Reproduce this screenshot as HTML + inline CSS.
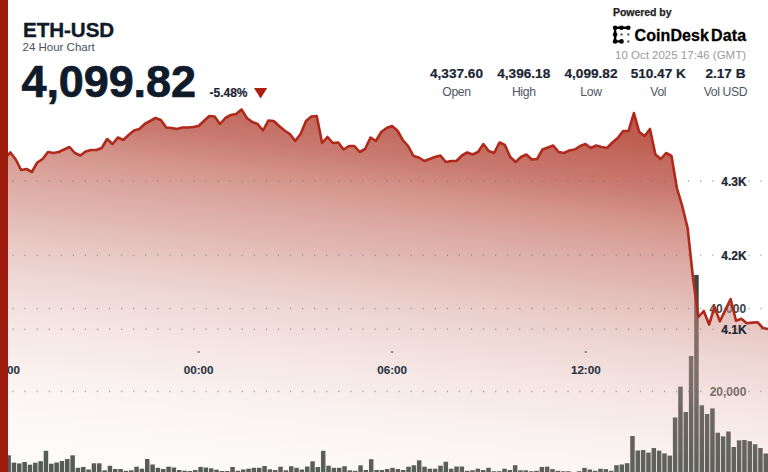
<!DOCTYPE html>
<html><head><meta charset="utf-8"><style>
html,body{margin:0;padding:0}
body{width:768px;height:472px;overflow:hidden;background:#fff;position:relative;font-family:"Liberation Sans",sans-serif}
.a{position:absolute;white-space:nowrap;line-height:1}
svg{position:absolute;left:0;top:0}
</style></head><body>
<svg width="768" height="472" viewBox="0 0 768 472">
<defs>
<linearGradient id="g" gradientUnits="userSpaceOnUse" x1="384" y1="80" x2="334.32" y2="494.04"><stop offset="0.0000" stop-color="rgb(168,43,26)" stop-opacity="0.8"/><stop offset="0.0714" stop-color="rgb(172,50,33)" stop-opacity="0.78"/><stop offset="0.1833" stop-color="rgb(182,75,62)" stop-opacity="0.74"/><stop offset="0.2667" stop-color="rgb(193,101,86)" stop-opacity="0.68"/><stop offset="0.3690" stop-color="rgb(200,122,112)" stop-opacity="0.6"/><stop offset="0.4167" stop-color="rgb(202,126,117)" stop-opacity="0.55"/><stop offset="0.5238" stop-color="rgb(212,153,144)" stop-opacity="0.47"/><stop offset="0.5952" stop-color="rgb(219,169,162)" stop-opacity="0.42"/><stop offset="0.6667" stop-color="rgb(224,178,172)" stop-opacity="0.35"/><stop offset="0.7024" stop-color="rgb(225,178,172)" stop-opacity="0.3"/><stop offset="0.8095" stop-color="rgb(232,196,191)" stop-opacity="0.22"/><stop offset="0.9048" stop-color="rgb(237,214,208)" stop-opacity="0.17"/><stop offset="1.0000" stop-color="rgb(241,219,219)" stop-opacity="0.14"/></linearGradient>
</defs>
<g fill="#3c4641">
<rect x="6.37" y="455.30" width="4.5" height="17.20"/>
<rect x="11.70" y="462.60" width="4.5" height="9.90"/>
<rect x="17.03" y="463.40" width="4.5" height="9.10"/>
<rect x="22.37" y="462.00" width="4.5" height="10.50"/>
<rect x="27.70" y="464.70" width="4.5" height="7.80"/>
<rect x="33.03" y="462.70" width="4.5" height="9.80"/>
<rect x="38.36" y="461.20" width="4.5" height="11.30"/>
<rect x="43.69" y="450.80" width="4.5" height="21.70"/>
<rect x="49.03" y="463.70" width="4.5" height="8.80"/>
<rect x="54.36" y="462.50" width="4.5" height="10.00"/>
<rect x="59.69" y="461.00" width="4.5" height="11.50"/>
<rect x="65.02" y="459.00" width="4.5" height="13.50"/>
<rect x="70.35" y="455.30" width="4.5" height="17.20"/>
<rect x="75.69" y="467.80" width="4.5" height="4.70"/>
<rect x="81.02" y="467.00" width="4.5" height="5.50"/>
<rect x="86.35" y="469.50" width="4.5" height="3.00"/>
<rect x="91.68" y="463.30" width="4.5" height="9.20"/>
<rect x="97.01" y="463.30" width="4.5" height="9.20"/>
<rect x="102.35" y="470.30" width="4.5" height="2.20"/>
<rect x="107.68" y="465.80" width="4.5" height="6.70"/>
<rect x="113.01" y="469.00" width="4.5" height="3.50"/>
<rect x="118.34" y="469.00" width="4.5" height="3.50"/>
<rect x="123.67" y="470.80" width="4.5" height="1.70"/>
<rect x="129.01" y="470.30" width="4.5" height="2.20"/>
<rect x="134.34" y="466.70" width="4.5" height="5.80"/>
<rect x="139.67" y="468.70" width="4.5" height="3.80"/>
<rect x="145.00" y="459.00" width="4.5" height="13.50"/>
<rect x="150.33" y="464.50" width="4.5" height="8.00"/>
<rect x="155.67" y="467.80" width="4.5" height="4.70"/>
<rect x="161.00" y="469.00" width="4.5" height="3.50"/>
<rect x="166.33" y="466.70" width="4.5" height="5.80"/>
<rect x="171.66" y="467.50" width="4.5" height="5.00"/>
<rect x="176.99" y="470.00" width="4.5" height="2.50"/>
<rect x="182.33" y="470.70" width="4.5" height="1.80"/>
<rect x="187.66" y="471.00" width="4.5" height="1.50"/>
<rect x="192.99" y="470.00" width="4.5" height="2.50"/>
<rect x="198.32" y="466.90" width="4.5" height="5.60"/>
<rect x="203.65" y="467.50" width="4.5" height="5.00"/>
<rect x="208.99" y="468.30" width="4.5" height="4.20"/>
<rect x="214.32" y="469.70" width="4.5" height="2.80"/>
<rect x="219.65" y="471.00" width="4.5" height="1.50"/>
<rect x="224.98" y="471.00" width="4.5" height="1.50"/>
<rect x="230.31" y="467.00" width="4.5" height="5.50"/>
<rect x="235.65" y="470.70" width="4.5" height="1.80"/>
<rect x="240.98" y="469.50" width="4.5" height="3.00"/>
<rect x="246.31" y="468.70" width="4.5" height="3.80"/>
<rect x="251.64" y="467.80" width="4.5" height="4.70"/>
<rect x="256.97" y="467.80" width="4.5" height="4.70"/>
<rect x="262.31" y="466.00" width="4.5" height="6.50"/>
<rect x="267.64" y="469.30" width="4.5" height="3.20"/>
<rect x="272.97" y="470.00" width="4.5" height="2.50"/>
<rect x="278.30" y="466.70" width="4.5" height="5.80"/>
<rect x="283.63" y="470.30" width="4.5" height="2.20"/>
<rect x="288.97" y="466.20" width="4.5" height="6.30"/>
<rect x="294.30" y="467.80" width="4.5" height="4.70"/>
<rect x="299.63" y="469.50" width="4.5" height="3.00"/>
<rect x="304.96" y="466.50" width="4.5" height="6.00"/>
<rect x="310.29" y="461.30" width="4.5" height="11.20"/>
<rect x="315.63" y="467.00" width="4.5" height="5.50"/>
<rect x="320.96" y="450.80" width="4.5" height="21.70"/>
<rect x="326.29" y="465.70" width="4.5" height="6.80"/>
<rect x="331.62" y="467.80" width="4.5" height="4.70"/>
<rect x="336.95" y="467.80" width="4.5" height="4.70"/>
<rect x="342.29" y="466.20" width="4.5" height="6.30"/>
<rect x="347.62" y="470.30" width="4.5" height="2.20"/>
<rect x="352.95" y="470.80" width="4.5" height="1.70"/>
<rect x="358.28" y="465.30" width="4.5" height="7.20"/>
<rect x="363.61" y="470.00" width="4.5" height="2.50"/>
<rect x="368.95" y="459.20" width="4.5" height="13.30"/>
<rect x="374.28" y="470.00" width="4.5" height="2.50"/>
<rect x="379.61" y="470.00" width="4.5" height="2.50"/>
<rect x="384.94" y="469.00" width="4.5" height="3.50"/>
<rect x="390.27" y="467.80" width="4.5" height="4.70"/>
<rect x="395.61" y="469.00" width="4.5" height="3.50"/>
<rect x="400.94" y="470.00" width="4.5" height="2.50"/>
<rect x="406.27" y="466.70" width="4.5" height="5.80"/>
<rect x="411.60" y="465.30" width="4.5" height="7.20"/>
<rect x="416.93" y="460.30" width="4.5" height="12.20"/>
<rect x="422.27" y="466.70" width="4.5" height="5.80"/>
<rect x="427.60" y="468.70" width="4.5" height="3.80"/>
<rect x="432.93" y="468.70" width="4.5" height="3.80"/>
<rect x="438.26" y="465.70" width="4.5" height="6.80"/>
<rect x="443.59" y="461.70" width="4.5" height="10.80"/>
<rect x="448.93" y="468.70" width="4.5" height="3.80"/>
<rect x="454.26" y="466.50" width="4.5" height="6.00"/>
<rect x="459.59" y="466.50" width="4.5" height="6.00"/>
<rect x="464.92" y="470.80" width="4.5" height="1.70"/>
<rect x="470.25" y="470.30" width="4.5" height="2.20"/>
<rect x="475.59" y="468.70" width="4.5" height="3.80"/>
<rect x="480.92" y="470.00" width="4.5" height="2.50"/>
<rect x="486.25" y="467.80" width="4.5" height="4.70"/>
<rect x="491.58" y="471.20" width="4.5" height="1.30"/>
<rect x="496.91" y="471.20" width="4.5" height="1.30"/>
<rect x="502.25" y="468.70" width="4.5" height="3.80"/>
<rect x="507.58" y="470.00" width="4.5" height="2.50"/>
<rect x="512.91" y="465.20" width="4.5" height="7.30"/>
<rect x="518.24" y="470.30" width="4.5" height="2.20"/>
<rect x="523.57" y="470.30" width="4.5" height="2.20"/>
<rect x="528.91" y="471.20" width="4.5" height="1.30"/>
<rect x="534.24" y="470.80" width="4.5" height="1.70"/>
<rect x="539.57" y="466.90" width="4.5" height="5.60"/>
<rect x="544.90" y="466.60" width="4.5" height="5.90"/>
<rect x="550.23" y="469.10" width="4.5" height="3.40"/>
<rect x="555.57" y="470.80" width="4.5" height="1.70"/>
<rect x="560.90" y="471.20" width="4.5" height="1.30"/>
<rect x="566.23" y="471.20" width="4.5" height="1.30"/>
<rect x="571.56" y="472.00" width="4.5" height="0.50"/>
<rect x="576.89" y="471.20" width="4.5" height="1.30"/>
<rect x="582.23" y="467.90" width="4.5" height="4.60"/>
<rect x="587.56" y="469.50" width="4.5" height="3.00"/>
<rect x="592.89" y="470.80" width="4.5" height="1.70"/>
<rect x="598.22" y="468.80" width="4.5" height="3.70"/>
<rect x="603.55" y="469.10" width="4.5" height="3.40"/>
<rect x="608.89" y="470.80" width="4.5" height="1.70"/>
<rect x="614.22" y="465.20" width="4.5" height="7.30"/>
<rect x="619.55" y="464.50" width="4.5" height="8.00"/>
<rect x="624.88" y="463.20" width="4.5" height="9.30"/>
<rect x="630.21" y="436.00" width="4.5" height="36.50"/>
<rect x="635.55" y="450.50" width="4.5" height="22.00"/>
<rect x="640.88" y="450.00" width="4.5" height="22.50"/>
<rect x="646.21" y="452.60" width="4.5" height="19.90"/>
<rect x="651.54" y="448.00" width="4.5" height="24.50"/>
<rect x="656.87" y="450.60" width="4.5" height="21.90"/>
<rect x="662.21" y="453.40" width="4.5" height="19.10"/>
<rect x="667.54" y="455.60" width="4.5" height="16.90"/>
<rect x="672.87" y="417.50" width="4.5" height="55.00"/>
<rect x="678.20" y="386.60" width="4.5" height="85.90"/>
<rect x="683.53" y="412.00" width="4.5" height="60.50"/>
<rect x="688.87" y="356.00" width="4.5" height="116.50"/>
<rect x="694.20" y="274.90" width="4.5" height="197.60"/>
<rect x="699.53" y="405.30" width="4.5" height="67.20"/>
<rect x="704.86" y="414.00" width="4.5" height="58.50"/>
<rect x="710.19" y="408.40" width="4.5" height="64.10"/>
<rect x="715.53" y="432.70" width="4.5" height="39.80"/>
<rect x="720.86" y="436.40" width="4.5" height="36.10"/>
<rect x="726.19" y="431.50" width="4.5" height="41.00"/>
<rect x="731.52" y="447.00" width="4.5" height="25.50"/>
<rect x="736.85" y="440.30" width="4.5" height="32.20"/>
<rect x="742.19" y="440.00" width="4.5" height="32.50"/>
<rect x="747.52" y="441.20" width="4.5" height="31.30"/>
<rect x="752.85" y="444.20" width="4.5" height="28.30"/>
<rect x="758.18" y="448.00" width="4.5" height="24.50"/>
<rect x="763.51" y="453.50" width="4.5" height="19.00"/>
</g>
<g font-family="Liberation Sans" font-weight="bold" font-size="12" fill="#3c4641" text-anchor="middle">
<text x="727.8" y="312.6">40,000</text>
<text x="728" y="395.8">20,000</text>
</g>
<path d="M5.00,158.00 L10.38,152.50 L15.75,159.50 L21.12,170.00 L26.50,169.00 L31.88,172.00 L37.25,162.50 L42.62,159.00 L48.00,152.00 L53.38,153.00 L58.75,152.00 L64.12,149.50 L69.50,147.00 L74.88,153.00 L80.25,155.50 L85.62,151.50 L91.00,150.00 L96.38,150.00 L101.75,148.00 L107.12,139.00 L112.50,144.00 L117.88,137.50 L123.25,140.00 L128.62,135.00 L134.00,130.50 L139.38,129.00 L144.75,124.00 L150.12,121.00 L155.50,118.00 L160.88,120.00 L166.25,127.50 L171.62,128.00 L177.00,129.00 L182.38,127.50 L187.75,127.50 L193.12,127.00 L198.50,126.00 L203.88,121.00 L209.25,116.00 L214.62,116.50 L220.00,124.00 L225.38,118.00 L230.75,115.00 L236.12,114.00 L241.50,109.50 L246.88,118.00 L252.25,122.00 L257.62,124.00 L263.00,130.50 L268.38,120.50 L273.75,121.00 L279.12,126.00 L284.50,130.50 L289.88,134.00 L295.25,141.00 L300.62,134.00 L306.00,121.00 L311.38,116.50 L316.75,116.00 L322.12,143.00 L327.50,137.00 L332.88,143.00 L338.25,142.50 L343.62,149.50 L349.00,146.00 L354.38,146.00 L359.75,152.00 L365.12,149.00 L370.50,137.50 L375.88,141.00 L381.25,132.00 L386.62,128.00 L392.00,126.00 L397.38,130.50 L402.75,140.00 L408.12,146.00 L413.50,156.00 L418.88,157.50 L424.25,161.00 L429.62,159.00 L435.00,157.00 L440.38,155.50 L445.75,162.00 L451.12,161.00 L456.50,161.00 L461.88,155.50 L467.25,152.50 L472.62,154.50 L478.00,152.00 L483.38,144.00 L488.75,151.00 L494.12,153.00 L499.50,142.50 L504.88,145.00 L510.25,157.00 L515.62,162.00 L521.00,157.00 L526.38,154.50 L531.75,159.50 L537.12,159.00 L542.50,149.50 L547.88,147.50 L553.25,145.50 L558.62,152.00 L564.00,153.00 L569.38,150.50 L574.75,149.50 L580.12,146.00 L585.50,144.00 L590.88,148.00 L596.25,145.50 L601.62,147.00 L607.00,148.00 L612.38,142.50 L617.75,138.00 L623.12,131.00 L628.50,131.00 L633.88,113.00 L639.25,132.00 L644.62,136.00 L650.00,129.00 L655.38,154.50 L660.75,159.00 L666.12,153.00 L671.50,156.00 L676.88,188.00 L682.25,206.00 L687.62,228.00 L693.00,278.00 L698.38,317.00 L703.75,311.00 L709.12,324.50 L714.50,307.00 L719.88,321.30 L725.25,310.00 L730.62,299.00 L736.00,320.70 L741.38,318.80 L746.75,323.30 L752.12,322.60 L757.50,322.20 L762.88,328.00 L768.25,329.00 L768.25,472 L5.00,472 Z" fill="url(#g)"/>
<g fill="#767a7a" fill-opacity="0.6">
<rect x="12.44" y="180.30" width="1.2" height="1.6"/>
<rect x="24.50" y="180.30" width="1.2" height="1.6"/>
<rect x="36.57" y="180.30" width="1.2" height="1.6"/>
<rect x="48.63" y="180.30" width="1.2" height="1.6"/>
<rect x="60.70" y="180.30" width="1.2" height="1.6"/>
<rect x="72.77" y="180.30" width="1.2" height="1.6"/>
<rect x="84.83" y="180.30" width="1.2" height="1.6"/>
<rect x="96.90" y="180.30" width="1.2" height="1.6"/>
<rect x="108.96" y="180.30" width="1.2" height="1.6"/>
<rect x="121.03" y="180.30" width="1.2" height="1.6"/>
<rect x="133.09" y="180.30" width="1.2" height="1.6"/>
<rect x="145.16" y="180.30" width="1.2" height="1.6"/>
<rect x="157.22" y="180.30" width="1.2" height="1.6"/>
<rect x="169.28" y="180.30" width="1.2" height="1.6"/>
<rect x="181.35" y="180.30" width="1.2" height="1.6"/>
<rect x="193.41" y="180.30" width="1.2" height="1.6"/>
<rect x="205.48" y="180.30" width="1.2" height="1.6"/>
<rect x="217.54" y="180.30" width="1.2" height="1.6"/>
<rect x="229.61" y="180.30" width="1.2" height="1.6"/>
<rect x="241.67" y="180.30" width="1.2" height="1.6"/>
<rect x="253.74" y="180.30" width="1.2" height="1.6"/>
<rect x="265.80" y="180.30" width="1.2" height="1.6"/>
<rect x="277.87" y="180.30" width="1.2" height="1.6"/>
<rect x="289.94" y="180.30" width="1.2" height="1.6"/>
<rect x="302.00" y="180.30" width="1.2" height="1.6"/>
<rect x="314.06" y="180.30" width="1.2" height="1.6"/>
<rect x="326.13" y="180.30" width="1.2" height="1.6"/>
<rect x="338.19" y="180.30" width="1.2" height="1.6"/>
<rect x="350.26" y="180.30" width="1.2" height="1.6"/>
<rect x="362.32" y="180.30" width="1.2" height="1.6"/>
<rect x="374.39" y="180.30" width="1.2" height="1.6"/>
<rect x="386.45" y="180.30" width="1.2" height="1.6"/>
<rect x="398.52" y="180.30" width="1.2" height="1.6"/>
<rect x="410.58" y="180.30" width="1.2" height="1.6"/>
<rect x="422.65" y="180.30" width="1.2" height="1.6"/>
<rect x="434.71" y="180.30" width="1.2" height="1.6"/>
<rect x="446.78" y="180.30" width="1.2" height="1.6"/>
<rect x="458.84" y="180.30" width="1.2" height="1.6"/>
<rect x="470.91" y="180.30" width="1.2" height="1.6"/>
<rect x="482.97" y="180.30" width="1.2" height="1.6"/>
<rect x="495.04" y="180.30" width="1.2" height="1.6"/>
<rect x="507.10" y="180.30" width="1.2" height="1.6"/>
<rect x="519.17" y="180.30" width="1.2" height="1.6"/>
<rect x="531.23" y="180.30" width="1.2" height="1.6"/>
<rect x="543.30" y="180.30" width="1.2" height="1.6"/>
<rect x="555.36" y="180.30" width="1.2" height="1.6"/>
<rect x="567.43" y="180.30" width="1.2" height="1.6"/>
<rect x="579.49" y="180.30" width="1.2" height="1.6"/>
<rect x="591.56" y="180.30" width="1.2" height="1.6"/>
<rect x="603.62" y="180.30" width="1.2" height="1.6"/>
<rect x="615.69" y="180.30" width="1.2" height="1.6"/>
<rect x="627.75" y="180.30" width="1.2" height="1.6"/>
<rect x="639.82" y="180.30" width="1.2" height="1.6"/>
<rect x="651.88" y="180.30" width="1.2" height="1.6"/>
<rect x="663.95" y="180.30" width="1.2" height="1.6"/>
<rect x="676.01" y="180.30" width="1.2" height="1.6"/>
<rect x="688.08" y="180.30" width="1.2" height="1.6"/>
<rect x="700.14" y="180.30" width="1.2" height="1.6"/>
<rect x="712.21" y="180.30" width="1.2" height="1.6"/>
<rect x="724.27" y="180.30" width="1.2" height="1.6"/>
<rect x="736.34" y="180.30" width="1.2" height="1.6"/>
<rect x="748.40" y="180.30" width="1.2" height="1.6"/>
<rect x="760.47" y="180.30" width="1.2" height="1.6"/>
<rect x="12.44" y="254.50" width="1.2" height="1.6"/>
<rect x="24.50" y="254.50" width="1.2" height="1.6"/>
<rect x="36.57" y="254.50" width="1.2" height="1.6"/>
<rect x="48.63" y="254.50" width="1.2" height="1.6"/>
<rect x="60.70" y="254.50" width="1.2" height="1.6"/>
<rect x="72.77" y="254.50" width="1.2" height="1.6"/>
<rect x="84.83" y="254.50" width="1.2" height="1.6"/>
<rect x="96.90" y="254.50" width="1.2" height="1.6"/>
<rect x="108.96" y="254.50" width="1.2" height="1.6"/>
<rect x="121.03" y="254.50" width="1.2" height="1.6"/>
<rect x="133.09" y="254.50" width="1.2" height="1.6"/>
<rect x="145.16" y="254.50" width="1.2" height="1.6"/>
<rect x="157.22" y="254.50" width="1.2" height="1.6"/>
<rect x="169.28" y="254.50" width="1.2" height="1.6"/>
<rect x="181.35" y="254.50" width="1.2" height="1.6"/>
<rect x="193.41" y="254.50" width="1.2" height="1.6"/>
<rect x="205.48" y="254.50" width="1.2" height="1.6"/>
<rect x="217.54" y="254.50" width="1.2" height="1.6"/>
<rect x="229.61" y="254.50" width="1.2" height="1.6"/>
<rect x="241.67" y="254.50" width="1.2" height="1.6"/>
<rect x="253.74" y="254.50" width="1.2" height="1.6"/>
<rect x="265.80" y="254.50" width="1.2" height="1.6"/>
<rect x="277.87" y="254.50" width="1.2" height="1.6"/>
<rect x="289.94" y="254.50" width="1.2" height="1.6"/>
<rect x="302.00" y="254.50" width="1.2" height="1.6"/>
<rect x="314.06" y="254.50" width="1.2" height="1.6"/>
<rect x="326.13" y="254.50" width="1.2" height="1.6"/>
<rect x="338.19" y="254.50" width="1.2" height="1.6"/>
<rect x="350.26" y="254.50" width="1.2" height="1.6"/>
<rect x="362.32" y="254.50" width="1.2" height="1.6"/>
<rect x="374.39" y="254.50" width="1.2" height="1.6"/>
<rect x="386.45" y="254.50" width="1.2" height="1.6"/>
<rect x="398.52" y="254.50" width="1.2" height="1.6"/>
<rect x="410.58" y="254.50" width="1.2" height="1.6"/>
<rect x="422.65" y="254.50" width="1.2" height="1.6"/>
<rect x="434.71" y="254.50" width="1.2" height="1.6"/>
<rect x="446.78" y="254.50" width="1.2" height="1.6"/>
<rect x="458.84" y="254.50" width="1.2" height="1.6"/>
<rect x="470.91" y="254.50" width="1.2" height="1.6"/>
<rect x="482.97" y="254.50" width="1.2" height="1.6"/>
<rect x="495.04" y="254.50" width="1.2" height="1.6"/>
<rect x="507.10" y="254.50" width="1.2" height="1.6"/>
<rect x="519.17" y="254.50" width="1.2" height="1.6"/>
<rect x="531.23" y="254.50" width="1.2" height="1.6"/>
<rect x="543.30" y="254.50" width="1.2" height="1.6"/>
<rect x="555.36" y="254.50" width="1.2" height="1.6"/>
<rect x="567.43" y="254.50" width="1.2" height="1.6"/>
<rect x="579.49" y="254.50" width="1.2" height="1.6"/>
<rect x="591.56" y="254.50" width="1.2" height="1.6"/>
<rect x="603.62" y="254.50" width="1.2" height="1.6"/>
<rect x="615.69" y="254.50" width="1.2" height="1.6"/>
<rect x="627.75" y="254.50" width="1.2" height="1.6"/>
<rect x="639.82" y="254.50" width="1.2" height="1.6"/>
<rect x="651.88" y="254.50" width="1.2" height="1.6"/>
<rect x="663.95" y="254.50" width="1.2" height="1.6"/>
<rect x="676.01" y="254.50" width="1.2" height="1.6"/>
<rect x="688.08" y="254.50" width="1.2" height="1.6"/>
<rect x="700.14" y="254.50" width="1.2" height="1.6"/>
<rect x="712.21" y="254.50" width="1.2" height="1.6"/>
<rect x="724.27" y="254.50" width="1.2" height="1.6"/>
<rect x="736.34" y="254.50" width="1.2" height="1.6"/>
<rect x="748.40" y="254.50" width="1.2" height="1.6"/>
<rect x="760.47" y="254.50" width="1.2" height="1.6"/>
<rect x="12.44" y="307.80" width="1.2" height="1.6"/>
<rect x="24.50" y="307.80" width="1.2" height="1.6"/>
<rect x="36.57" y="307.80" width="1.2" height="1.6"/>
<rect x="48.63" y="307.80" width="1.2" height="1.6"/>
<rect x="60.70" y="307.80" width="1.2" height="1.6"/>
<rect x="72.77" y="307.80" width="1.2" height="1.6"/>
<rect x="84.83" y="307.80" width="1.2" height="1.6"/>
<rect x="96.90" y="307.80" width="1.2" height="1.6"/>
<rect x="108.96" y="307.80" width="1.2" height="1.6"/>
<rect x="121.03" y="307.80" width="1.2" height="1.6"/>
<rect x="133.09" y="307.80" width="1.2" height="1.6"/>
<rect x="145.16" y="307.80" width="1.2" height="1.6"/>
<rect x="157.22" y="307.80" width="1.2" height="1.6"/>
<rect x="169.28" y="307.80" width="1.2" height="1.6"/>
<rect x="181.35" y="307.80" width="1.2" height="1.6"/>
<rect x="193.41" y="307.80" width="1.2" height="1.6"/>
<rect x="205.48" y="307.80" width="1.2" height="1.6"/>
<rect x="217.54" y="307.80" width="1.2" height="1.6"/>
<rect x="229.61" y="307.80" width="1.2" height="1.6"/>
<rect x="241.67" y="307.80" width="1.2" height="1.6"/>
<rect x="253.74" y="307.80" width="1.2" height="1.6"/>
<rect x="265.80" y="307.80" width="1.2" height="1.6"/>
<rect x="277.87" y="307.80" width="1.2" height="1.6"/>
<rect x="289.94" y="307.80" width="1.2" height="1.6"/>
<rect x="302.00" y="307.80" width="1.2" height="1.6"/>
<rect x="314.06" y="307.80" width="1.2" height="1.6"/>
<rect x="326.13" y="307.80" width="1.2" height="1.6"/>
<rect x="338.19" y="307.80" width="1.2" height="1.6"/>
<rect x="350.26" y="307.80" width="1.2" height="1.6"/>
<rect x="362.32" y="307.80" width="1.2" height="1.6"/>
<rect x="374.39" y="307.80" width="1.2" height="1.6"/>
<rect x="386.45" y="307.80" width="1.2" height="1.6"/>
<rect x="398.52" y="307.80" width="1.2" height="1.6"/>
<rect x="410.58" y="307.80" width="1.2" height="1.6"/>
<rect x="422.65" y="307.80" width="1.2" height="1.6"/>
<rect x="434.71" y="307.80" width="1.2" height="1.6"/>
<rect x="446.78" y="307.80" width="1.2" height="1.6"/>
<rect x="458.84" y="307.80" width="1.2" height="1.6"/>
<rect x="470.91" y="307.80" width="1.2" height="1.6"/>
<rect x="482.97" y="307.80" width="1.2" height="1.6"/>
<rect x="495.04" y="307.80" width="1.2" height="1.6"/>
<rect x="507.10" y="307.80" width="1.2" height="1.6"/>
<rect x="519.17" y="307.80" width="1.2" height="1.6"/>
<rect x="531.23" y="307.80" width="1.2" height="1.6"/>
<rect x="543.30" y="307.80" width="1.2" height="1.6"/>
<rect x="555.36" y="307.80" width="1.2" height="1.6"/>
<rect x="567.43" y="307.80" width="1.2" height="1.6"/>
<rect x="579.49" y="307.80" width="1.2" height="1.6"/>
<rect x="591.56" y="307.80" width="1.2" height="1.6"/>
<rect x="603.62" y="307.80" width="1.2" height="1.6"/>
<rect x="615.69" y="307.80" width="1.2" height="1.6"/>
<rect x="627.75" y="307.80" width="1.2" height="1.6"/>
<rect x="639.82" y="307.80" width="1.2" height="1.6"/>
<rect x="651.88" y="307.80" width="1.2" height="1.6"/>
<rect x="663.95" y="307.80" width="1.2" height="1.6"/>
<rect x="676.01" y="307.80" width="1.2" height="1.6"/>
<rect x="688.08" y="307.80" width="1.2" height="1.6"/>
<rect x="700.14" y="307.80" width="1.2" height="1.6"/>
<rect x="712.21" y="307.80" width="1.2" height="1.6"/>
<rect x="724.27" y="307.80" width="1.2" height="1.6"/>
<rect x="736.34" y="307.80" width="1.2" height="1.6"/>
<rect x="748.40" y="307.80" width="1.2" height="1.6"/>
<rect x="760.47" y="307.80" width="1.2" height="1.6"/>
<rect x="12.44" y="328.40" width="1.2" height="1.6"/>
<rect x="24.50" y="328.40" width="1.2" height="1.6"/>
<rect x="36.57" y="328.40" width="1.2" height="1.6"/>
<rect x="48.63" y="328.40" width="1.2" height="1.6"/>
<rect x="60.70" y="328.40" width="1.2" height="1.6"/>
<rect x="72.77" y="328.40" width="1.2" height="1.6"/>
<rect x="84.83" y="328.40" width="1.2" height="1.6"/>
<rect x="96.90" y="328.40" width="1.2" height="1.6"/>
<rect x="108.96" y="328.40" width="1.2" height="1.6"/>
<rect x="121.03" y="328.40" width="1.2" height="1.6"/>
<rect x="133.09" y="328.40" width="1.2" height="1.6"/>
<rect x="145.16" y="328.40" width="1.2" height="1.6"/>
<rect x="157.22" y="328.40" width="1.2" height="1.6"/>
<rect x="169.28" y="328.40" width="1.2" height="1.6"/>
<rect x="181.35" y="328.40" width="1.2" height="1.6"/>
<rect x="193.41" y="328.40" width="1.2" height="1.6"/>
<rect x="205.48" y="328.40" width="1.2" height="1.6"/>
<rect x="217.54" y="328.40" width="1.2" height="1.6"/>
<rect x="229.61" y="328.40" width="1.2" height="1.6"/>
<rect x="241.67" y="328.40" width="1.2" height="1.6"/>
<rect x="253.74" y="328.40" width="1.2" height="1.6"/>
<rect x="265.80" y="328.40" width="1.2" height="1.6"/>
<rect x="277.87" y="328.40" width="1.2" height="1.6"/>
<rect x="289.94" y="328.40" width="1.2" height="1.6"/>
<rect x="302.00" y="328.40" width="1.2" height="1.6"/>
<rect x="314.06" y="328.40" width="1.2" height="1.6"/>
<rect x="326.13" y="328.40" width="1.2" height="1.6"/>
<rect x="338.19" y="328.40" width="1.2" height="1.6"/>
<rect x="350.26" y="328.40" width="1.2" height="1.6"/>
<rect x="362.32" y="328.40" width="1.2" height="1.6"/>
<rect x="374.39" y="328.40" width="1.2" height="1.6"/>
<rect x="386.45" y="328.40" width="1.2" height="1.6"/>
<rect x="398.52" y="328.40" width="1.2" height="1.6"/>
<rect x="410.58" y="328.40" width="1.2" height="1.6"/>
<rect x="422.65" y="328.40" width="1.2" height="1.6"/>
<rect x="434.71" y="328.40" width="1.2" height="1.6"/>
<rect x="446.78" y="328.40" width="1.2" height="1.6"/>
<rect x="458.84" y="328.40" width="1.2" height="1.6"/>
<rect x="470.91" y="328.40" width="1.2" height="1.6"/>
<rect x="482.97" y="328.40" width="1.2" height="1.6"/>
<rect x="495.04" y="328.40" width="1.2" height="1.6"/>
<rect x="507.10" y="328.40" width="1.2" height="1.6"/>
<rect x="519.17" y="328.40" width="1.2" height="1.6"/>
<rect x="531.23" y="328.40" width="1.2" height="1.6"/>
<rect x="543.30" y="328.40" width="1.2" height="1.6"/>
<rect x="555.36" y="328.40" width="1.2" height="1.6"/>
<rect x="567.43" y="328.40" width="1.2" height="1.6"/>
<rect x="579.49" y="328.40" width="1.2" height="1.6"/>
<rect x="591.56" y="328.40" width="1.2" height="1.6"/>
<rect x="603.62" y="328.40" width="1.2" height="1.6"/>
<rect x="615.69" y="328.40" width="1.2" height="1.6"/>
<rect x="627.75" y="328.40" width="1.2" height="1.6"/>
<rect x="639.82" y="328.40" width="1.2" height="1.6"/>
<rect x="651.88" y="328.40" width="1.2" height="1.6"/>
<rect x="663.95" y="328.40" width="1.2" height="1.6"/>
<rect x="676.01" y="328.40" width="1.2" height="1.6"/>
<rect x="688.08" y="328.40" width="1.2" height="1.6"/>
<rect x="700.14" y="328.40" width="1.2" height="1.6"/>
<rect x="712.21" y="328.40" width="1.2" height="1.6"/>
<rect x="724.27" y="328.40" width="1.2" height="1.6"/>
<rect x="736.34" y="328.40" width="1.2" height="1.6"/>
<rect x="748.40" y="328.40" width="1.2" height="1.6"/>
<rect x="760.47" y="328.40" width="1.2" height="1.6"/>
<rect x="12.44" y="390.60" width="1.2" height="1.6"/>
<rect x="24.50" y="390.60" width="1.2" height="1.6"/>
<rect x="36.57" y="390.60" width="1.2" height="1.6"/>
<rect x="48.63" y="390.60" width="1.2" height="1.6"/>
<rect x="60.70" y="390.60" width="1.2" height="1.6"/>
<rect x="72.77" y="390.60" width="1.2" height="1.6"/>
<rect x="84.83" y="390.60" width="1.2" height="1.6"/>
<rect x="96.90" y="390.60" width="1.2" height="1.6"/>
<rect x="108.96" y="390.60" width="1.2" height="1.6"/>
<rect x="121.03" y="390.60" width="1.2" height="1.6"/>
<rect x="133.09" y="390.60" width="1.2" height="1.6"/>
<rect x="145.16" y="390.60" width="1.2" height="1.6"/>
<rect x="157.22" y="390.60" width="1.2" height="1.6"/>
<rect x="169.28" y="390.60" width="1.2" height="1.6"/>
<rect x="181.35" y="390.60" width="1.2" height="1.6"/>
<rect x="193.41" y="390.60" width="1.2" height="1.6"/>
<rect x="205.48" y="390.60" width="1.2" height="1.6"/>
<rect x="217.54" y="390.60" width="1.2" height="1.6"/>
<rect x="229.61" y="390.60" width="1.2" height="1.6"/>
<rect x="241.67" y="390.60" width="1.2" height="1.6"/>
<rect x="253.74" y="390.60" width="1.2" height="1.6"/>
<rect x="265.80" y="390.60" width="1.2" height="1.6"/>
<rect x="277.87" y="390.60" width="1.2" height="1.6"/>
<rect x="289.94" y="390.60" width="1.2" height="1.6"/>
<rect x="302.00" y="390.60" width="1.2" height="1.6"/>
<rect x="314.06" y="390.60" width="1.2" height="1.6"/>
<rect x="326.13" y="390.60" width="1.2" height="1.6"/>
<rect x="338.19" y="390.60" width="1.2" height="1.6"/>
<rect x="350.26" y="390.60" width="1.2" height="1.6"/>
<rect x="362.32" y="390.60" width="1.2" height="1.6"/>
<rect x="374.39" y="390.60" width="1.2" height="1.6"/>
<rect x="386.45" y="390.60" width="1.2" height="1.6"/>
<rect x="398.52" y="390.60" width="1.2" height="1.6"/>
<rect x="410.58" y="390.60" width="1.2" height="1.6"/>
<rect x="422.65" y="390.60" width="1.2" height="1.6"/>
<rect x="434.71" y="390.60" width="1.2" height="1.6"/>
<rect x="446.78" y="390.60" width="1.2" height="1.6"/>
<rect x="458.84" y="390.60" width="1.2" height="1.6"/>
<rect x="470.91" y="390.60" width="1.2" height="1.6"/>
<rect x="482.97" y="390.60" width="1.2" height="1.6"/>
<rect x="495.04" y="390.60" width="1.2" height="1.6"/>
<rect x="507.10" y="390.60" width="1.2" height="1.6"/>
<rect x="519.17" y="390.60" width="1.2" height="1.6"/>
<rect x="531.23" y="390.60" width="1.2" height="1.6"/>
<rect x="543.30" y="390.60" width="1.2" height="1.6"/>
<rect x="555.36" y="390.60" width="1.2" height="1.6"/>
<rect x="567.43" y="390.60" width="1.2" height="1.6"/>
<rect x="579.49" y="390.60" width="1.2" height="1.6"/>
<rect x="591.56" y="390.60" width="1.2" height="1.6"/>
<rect x="603.62" y="390.60" width="1.2" height="1.6"/>
<rect x="615.69" y="390.60" width="1.2" height="1.6"/>
<rect x="627.75" y="390.60" width="1.2" height="1.6"/>
<rect x="639.82" y="390.60" width="1.2" height="1.6"/>
<rect x="651.88" y="390.60" width="1.2" height="1.6"/>
<rect x="663.95" y="390.60" width="1.2" height="1.6"/>
<rect x="676.01" y="390.60" width="1.2" height="1.6"/>
<rect x="688.08" y="390.60" width="1.2" height="1.6"/>
<rect x="700.14" y="390.60" width="1.2" height="1.6"/>
<rect x="712.21" y="390.60" width="1.2" height="1.6"/>
<rect x="724.27" y="390.60" width="1.2" height="1.6"/>
<rect x="736.34" y="390.60" width="1.2" height="1.6"/>
<rect x="748.40" y="390.60" width="1.2" height="1.6"/>
<rect x="760.47" y="390.60" width="1.2" height="1.6"/>
</g>
<g fill="#6f7777" fill-opacity="0.85"><rect x="4.00" y="351" width="2" height="2"/><rect x="197.60" y="351" width="2" height="2"/><rect x="391.10" y="351" width="2" height="2"/><rect x="584.80" y="351" width="2" height="2"/></g>
<path d="M5.00,158.00 L10.38,152.50 L15.75,159.50 L21.12,170.00 L26.50,169.00 L31.88,172.00 L37.25,162.50 L42.62,159.00 L48.00,152.00 L53.38,153.00 L58.75,152.00 L64.12,149.50 L69.50,147.00 L74.88,153.00 L80.25,155.50 L85.62,151.50 L91.00,150.00 L96.38,150.00 L101.75,148.00 L107.12,139.00 L112.50,144.00 L117.88,137.50 L123.25,140.00 L128.62,135.00 L134.00,130.50 L139.38,129.00 L144.75,124.00 L150.12,121.00 L155.50,118.00 L160.88,120.00 L166.25,127.50 L171.62,128.00 L177.00,129.00 L182.38,127.50 L187.75,127.50 L193.12,127.00 L198.50,126.00 L203.88,121.00 L209.25,116.00 L214.62,116.50 L220.00,124.00 L225.38,118.00 L230.75,115.00 L236.12,114.00 L241.50,109.50 L246.88,118.00 L252.25,122.00 L257.62,124.00 L263.00,130.50 L268.38,120.50 L273.75,121.00 L279.12,126.00 L284.50,130.50 L289.88,134.00 L295.25,141.00 L300.62,134.00 L306.00,121.00 L311.38,116.50 L316.75,116.00 L322.12,143.00 L327.50,137.00 L332.88,143.00 L338.25,142.50 L343.62,149.50 L349.00,146.00 L354.38,146.00 L359.75,152.00 L365.12,149.00 L370.50,137.50 L375.88,141.00 L381.25,132.00 L386.62,128.00 L392.00,126.00 L397.38,130.50 L402.75,140.00 L408.12,146.00 L413.50,156.00 L418.88,157.50 L424.25,161.00 L429.62,159.00 L435.00,157.00 L440.38,155.50 L445.75,162.00 L451.12,161.00 L456.50,161.00 L461.88,155.50 L467.25,152.50 L472.62,154.50 L478.00,152.00 L483.38,144.00 L488.75,151.00 L494.12,153.00 L499.50,142.50 L504.88,145.00 L510.25,157.00 L515.62,162.00 L521.00,157.00 L526.38,154.50 L531.75,159.50 L537.12,159.00 L542.50,149.50 L547.88,147.50 L553.25,145.50 L558.62,152.00 L564.00,153.00 L569.38,150.50 L574.75,149.50 L580.12,146.00 L585.50,144.00 L590.88,148.00 L596.25,145.50 L601.62,147.00 L607.00,148.00 L612.38,142.50 L617.75,138.00 L623.12,131.00 L628.50,131.00 L633.88,113.00 L639.25,132.00 L644.62,136.00 L650.00,129.00 L655.38,154.50 L660.75,159.00 L666.12,153.00 L671.50,156.00 L676.88,188.00 L682.25,206.00 L687.62,228.00 L693.00,278.00 L698.38,317.00 L703.75,311.00 L709.12,324.50 L714.50,307.00 L719.88,321.30 L725.25,310.00 L730.62,299.00 L736.00,320.70 L741.38,318.80 L746.75,323.30 L752.12,322.60 L757.50,322.20 L762.88,328.00 L768.25,329.00" fill="none" stroke="#b02a1c" stroke-width="2.6" stroke-linejoin="round"/>
<g font-family="Liberation Sans" font-weight="bold" font-size="11.6" fill="#2a3444" stroke="#2a3444" stroke-width="0.15" text-anchor="middle">
<text x="5" y="373.8">18:00</text>
<text x="198.6" y="373.8">00:00</text>
<text x="392.1" y="373.8">06:00</text>
<text x="585.8" y="373.8">12:00</text>
</g>
<g font-family="Liberation Sans" font-weight="bold" font-size="12" fill="#1b2433" stroke="#1b2433" stroke-width="0.2" text-anchor="middle">
<text x="734" y="186">4.3K</text>
<text x="734" y="260">4.2K</text>
<text x="734" y="334">4.1K</text>
</g>
</svg>
<div class="a" style="left:0;top:0;width:8px;height:472px;background:#9e1c0e"></div>
<div class="a" style="left:23px;top:19.5px;font-size:20.6px;font-weight:bold;color:#101a28;-webkit-text-stroke:0.35px #101a28;letter-spacing:-0.05px">ETH-USD</div>
<div class="a" style="left:22.5px;top:42.2px;font-size:11.5px;color:#4a5060">24 Hour Chart</div>
<div class="a" style="left:21.5px;top:58.5px;font-size:45px;font-weight:bold;color:#0f1a2a;-webkit-text-stroke:0.7px #0f1a2a;letter-spacing:-0.1px">4,099.82</div>
<div class="a" style="left:209.5px;top:87px;font-size:12px;font-weight:bold;color:#1b2433;-webkit-text-stroke:0.2px #1b2433">-5.48%</div>
<svg width="14" height="11" style="left:253.5px;top:88px" viewBox="0 0 14 11"><path d="M0,0 L13.2,0 L6.6,10.5 Z" fill="#b01e12"/></svg>
<div class="a" style="left:613px;top:7px;font-size:10.5px;font-weight:bold;color:#222;-webkit-text-stroke:0.25px #222;letter-spacing:-0.05px">Powered by</div>
<svg width="20" height="20" style="left:612px;top:25px" viewBox="0 0 20 20">
<path d="M3.1,2.8 H16.3 M3.1,2.8 V16.4 M3.1,16.4 H9.5" stroke="#000" stroke-width="2.4" fill="none"/>
<g fill="#000"><circle cx="3.1" cy="2.8" r="2.3"/><circle cx="9.5" cy="2.8" r="2.3"/><circle cx="16.3" cy="2.8" r="2.3"/>
<circle cx="3.1" cy="9.6" r="2.3"/><circle cx="3.1" cy="16.4" r="2.3"/><circle cx="9.5" cy="16.4" r="2.3"/></g>
<g fill="#666"><circle cx="9.5" cy="9.6" r="1.25"/><circle cx="16.3" cy="9.6" r="1.25"/><circle cx="16.3" cy="16.4" r="1.25"/></g>
</svg>
<div class="a" style="left:634.5px;top:27.5px;font-size:16px;font-weight:bold;color:#000;letter-spacing:0.1px;-webkit-text-stroke:0.3px #000">CoinDesk<span style="margin-left:2px">Data</span></div>
<div class="a" style="left:615px;top:50px;font-size:11.5px;color:#9a9a9a">10 Oct 2025 17:46 (GMT)</div>
<div class="a" style="left:416.5px;width:80px;text-align:center;top:67.2px;font-size:13.6px;font-weight:bold;color:#1b2433;-webkit-text-stroke:0.2px #1b2433">4,337.60</div>
<div class="a" style="left:416.5px;width:80px;text-align:center;top:85.5px;font-size:12.2px;letter-spacing:-0.35px;color:#4f5663">Open</div>
<div class="a" style="left:483.75px;width:80px;text-align:center;top:67.2px;font-size:13.6px;font-weight:bold;color:#1b2433;-webkit-text-stroke:0.2px #1b2433">4,396.18</div>
<div class="a" style="left:483.75px;width:80px;text-align:center;top:85.5px;font-size:12.2px;letter-spacing:-0.35px;color:#4f5663">High</div>
<div class="a" style="left:551px;width:80px;text-align:center;top:67.2px;font-size:13.6px;font-weight:bold;color:#1b2433;-webkit-text-stroke:0.2px #1b2433">4,099.82</div>
<div class="a" style="left:551px;width:80px;text-align:center;top:85.5px;font-size:12.2px;letter-spacing:-0.35px;color:#4f5663">Low</div>
<div class="a" style="left:618.25px;width:80px;text-align:center;top:67.2px;font-size:13.6px;font-weight:bold;color:#1b2433;-webkit-text-stroke:0.2px #1b2433">510.47 K</div>
<div class="a" style="left:618.25px;width:80px;text-align:center;top:85.5px;font-size:12.2px;letter-spacing:-0.35px;color:#4f5663">Vol</div>
<div class="a" style="left:685.5px;width:80px;text-align:center;top:67.2px;font-size:13.6px;font-weight:bold;color:#1b2433;-webkit-text-stroke:0.2px #1b2433">2.17 B</div>
<div class="a" style="left:685.5px;width:80px;text-align:center;top:85.5px;font-size:12.2px;letter-spacing:-0.35px;color:#4f5663">Vol USD</div>
</body></html>
